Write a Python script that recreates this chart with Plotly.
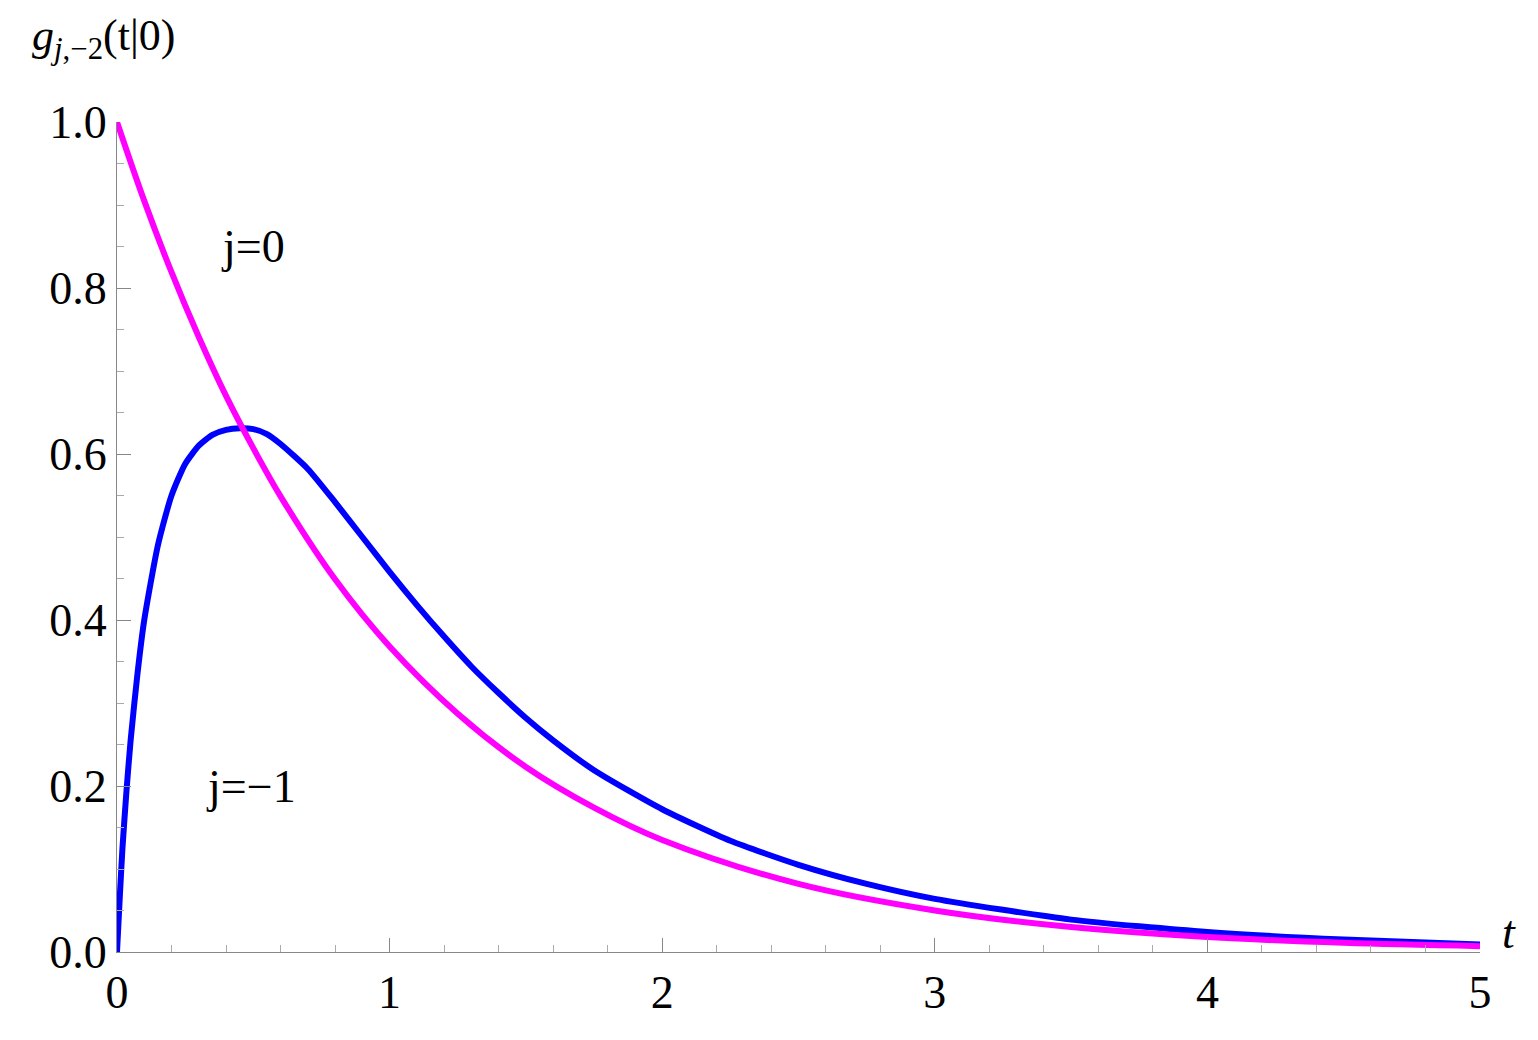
import plotly.graph_objects as go

t_mag = [0, 0.1, 0.2, 0.3, 0.4, 0.5, 0.6, 0.8, 1, 1.25, 1.5, 1.75, 2, 2.5, 3, 3.5, 4, 4.5, 5]
g_mag = [1, 0.905, 0.819, 0.741, 0.670, 0.607, 0.549, 0.449, 0.368, 0.287, 0.223, 0.174, 0.135, 0.082, 0.050, 0.030, 0.018, 0.011, 0.007]
t_blue = [0, 0.01, 0.02, 0.035, 0.05, 0.075, 0.1, 0.15, 0.2, 0.25, 0.3, 0.35, 0.4, 0.45, 0.5, 0.55, 0.6, 0.7, 0.8, 0.9, 1, 1.1, 1.2, 1.3, 1.4, 1.5, 1.6, 1.75, 2, 2.25, 2.5, 2.75, 3, 3.5, 4, 4.5, 5]
g_blue = [0, 0.065, 0.125, 0.195, 0.255, 0.335, 0.40, 0.49, 0.55, 0.588, 0.610, 0.623, 0.629, 0.631, 0.630, 0.624, 0.612, 0.582, 0.542, 0.500, 0.458, 0.418, 0.380, 0.344, 0.312, 0.282, 0.255, 0.219, 0.172, 0.134, 0.105, 0.082, 0.064, 0.039, 0.024, 0.015, 0.009]

font = dict(family="Liberation Serif, Times New Roman, serif", size=46, color="black")
fig = go.Figure()
fig.add_trace(go.Scatter(x=t_blue, y=g_blue, mode="lines", line=dict(color="#0000ff", width=6, shape="spline", smoothing=0.6), showlegend=False))
fig.add_trace(go.Scatter(x=t_mag, y=g_mag, mode="lines", line=dict(color="#ff00ff", width=6, shape="spline"), showlegend=False))

ax = dict(showgrid=False, zeroline=False, showline=True, linecolor="#888", linewidth=1,
          ticks="inside", ticklen=14, tickcolor="#888", tickfont=font)
fig.update_xaxes(range=[0, 5], dtick=1, tickformat="d",
                 minor=dict(dtick=0.2, ticks="inside", ticklen=7, tickcolor="#aaa"), **ax)
fig.update_yaxes(range=[0, 1], dtick=0.2, tickformat=".1f",
                 minor=dict(dtick=0.05, ticks="inside", ticklen=7, tickcolor="#aaa"), **ax)
fig.add_annotation(x=0.5, y=0.85, text="j=0", showarrow=False, font=font, xref="x", yref="y")
fig.add_annotation(x=0.49, y=0.2, text="j=−1", showarrow=False, font=font, xref="x", yref="y")
fig.add_annotation(x=20, y=60, xref="paper", yref="paper", xanchor="left", yanchor="middle",
                   text="<i>g</i><sub><i>j</i>,−2</sub>(t|0)", showarrow=False, font=dict(font, size=44))
fig.layout.annotations[-1].update(x=-0.064, y=1.1)
fig.add_annotation(x=1.015, y=-0.01, xref="paper", yref="paper", xanchor="left", yanchor="bottom",
                   text="<i>t</i>", showarrow=False, font=font)
fig.update_layout(width=1538, height=1040, plot_bgcolor="white", paper_bgcolor="white",
                  margin=dict(l=109, r=66, t=114, b=96))
fig.write_html("out.html")
